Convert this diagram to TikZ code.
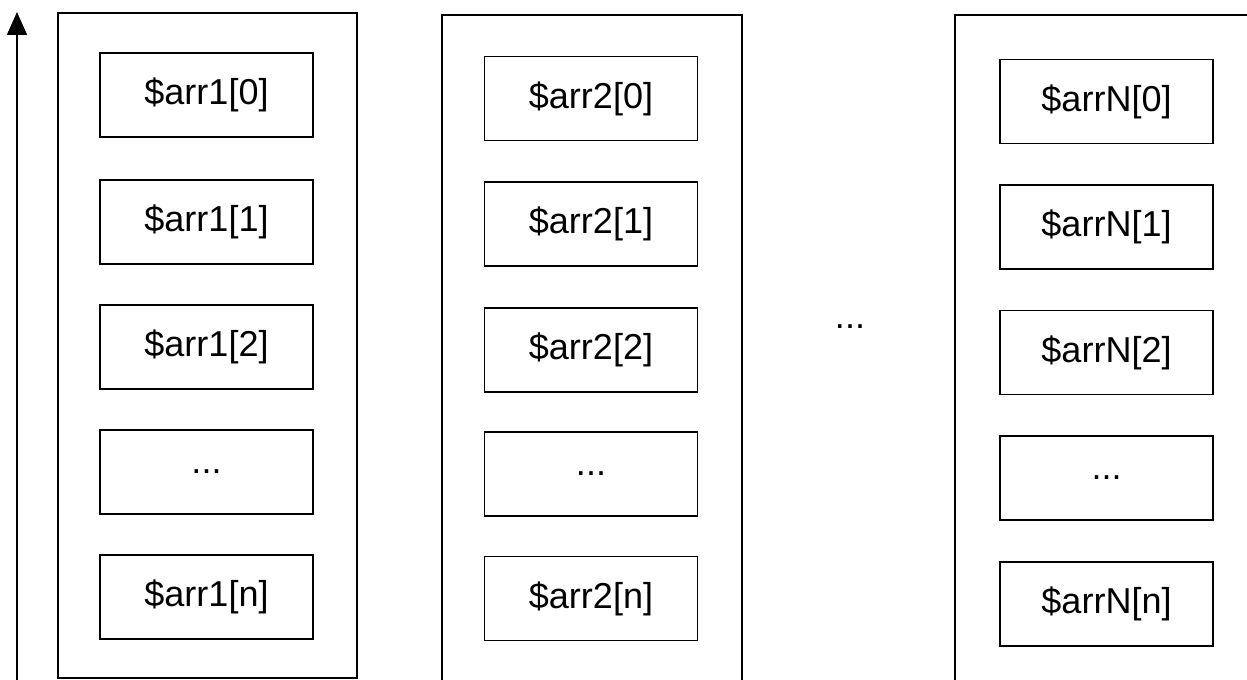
\documentclass[tikz,border=0pt]{standalone}
\usepackage{fontspec}
\setmainfont{Liberation Sans}
\usepackage{tikz}
\usetikzlibrary{arrows.meta}

\tikzset{
  cell/.style={draw,line width=1pt,minimum width=4.26cm,minimum height=1.68cm,
    inner sep=0pt,font=\fontsize{20.5}{24}\selectfont},
  frame/.style={draw,line width=1pt}
}

\begin{document}
\begin{tikzpicture}
\useasboundingbox (0,0) rectangle (24.94,13.6);
% address axis
\coordinate (base) at (.34,-.1);
\coordinate (tip) at (.34,13.36);
\draw[line width=1pt,-{Triangle[length=.46cm,width=.4cm]}] (base) -- (tip);
% first array
\draw[frame] (1.16,.04) rectangle (7.14,13.34);
\node[cell] (a10) at (4.13,11.70) {\$arr1[0]};
\node[cell] (a11) at (4.13,9.16) {\$arr1[1]};
\node[cell] (a12) at (4.13,6.66) {\$arr1[2]};
\node[cell] (a1d) at (4.13,4.16) {...};
\node[cell] (a1n) at (4.13,1.66) {\$arr1[n]};
% second array
\draw[frame] (8.84,-.2) rectangle (14.84,13.30);
\node[cell] (a20) at (11.82,11.63) {\$arr2[0]};
\node[cell] (a21) at (11.82,9.12) {\$arr2[1]};
\node[cell] (a22) at (11.82,6.60) {\$arr2[2]};
\node[cell] (a2d) at (11.82,4.12) {...};
\node[cell] (a2n) at (11.82,1.63) {\$arr2[n]};
% gap
\node[font=\fontsize{20.5}{24}\selectfont] (gap) at (17.0,7.06) {...};
% last array
\draw[frame] (19.10,-.2) rectangle (25.3,13.30);
\node[cell] (aN0) at (22.13,11.57) {\$arrN[0]};
\node[cell] (aN1) at (22.13,9.06) {\$arrN[1]};
\node[cell] (aN2) at (22.13,6.55) {\$arrN[2]};
\node[cell] (aNd) at (22.13,4.04) {...};
\node[cell] (aNn) at (22.13,1.52) {\$arrN[n]};
\end{tikzpicture}
\end{document}
